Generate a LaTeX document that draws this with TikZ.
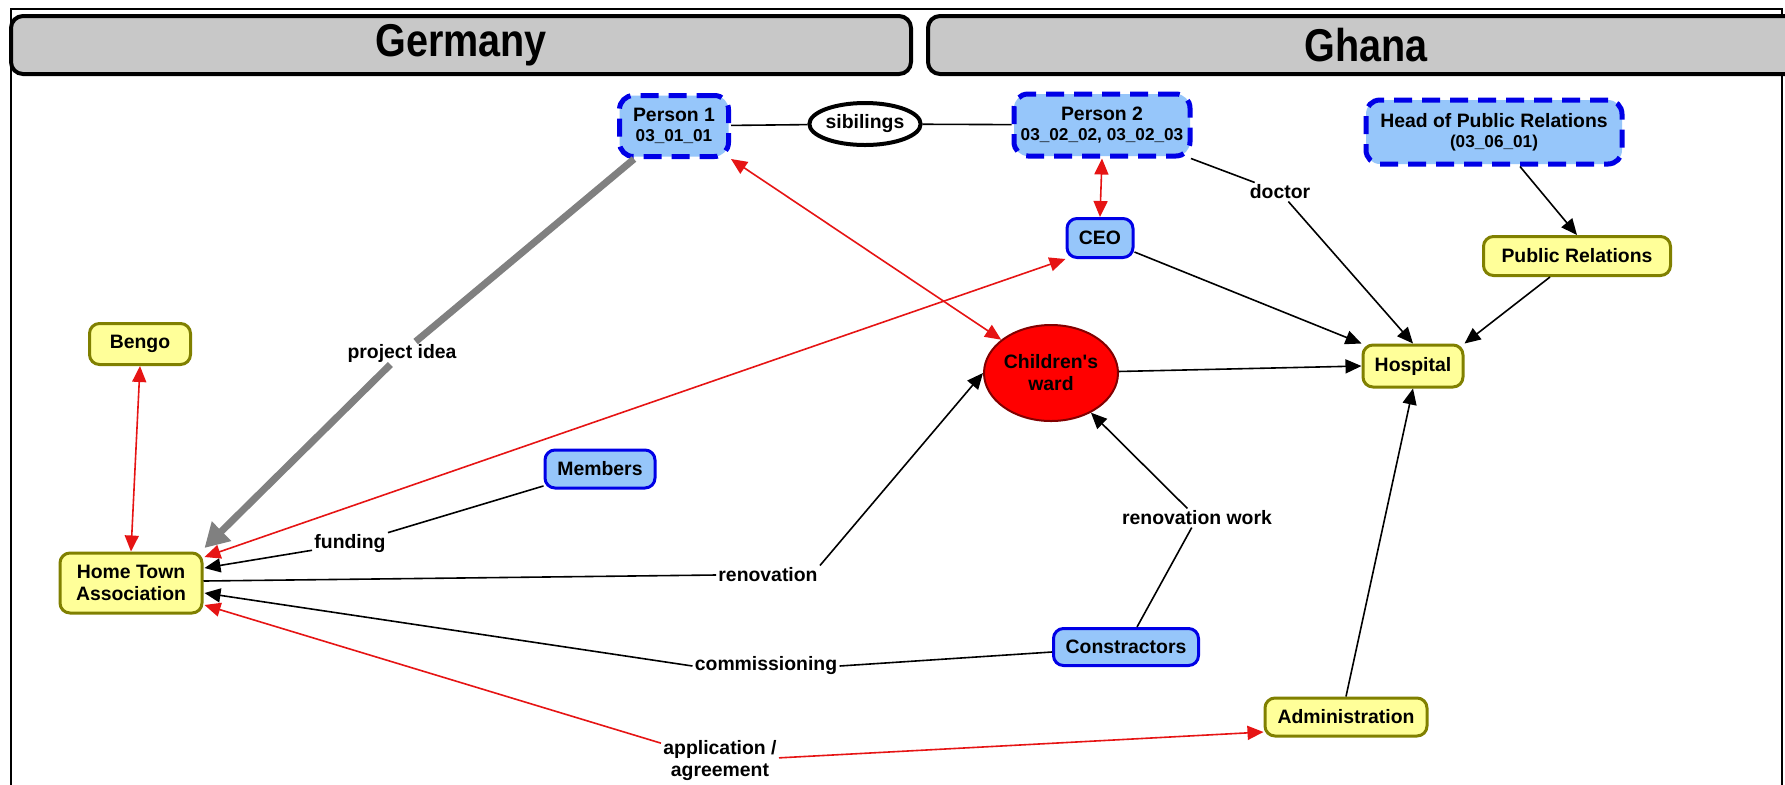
\documentclass[tikz,border=0pt]{standalone}
\usepackage{fontspec}
\setmainfont{Liberation Sans}
\newfontfamily\hdrfont{Liberation Sans}[FakeStretch=0.86]
\usetikzlibrary{arrows.meta,shapes.geometric}
\definecolor{bfill}{RGB}{150,198,250}
\definecolor{bline}{RGB}{0,0,230}
\definecolor{yfill}{RGB}{255,255,153}
\definecolor{yline}{RGB}{128,128,0}
\definecolor{rfill}{RGB}{255,0,0}
\definecolor{rline}{RGB}{130,0,0}
\definecolor{redl}{RGB}{230,20,20}
\definecolor{hfill}{RGB}{200,200,200}
\definecolor{garrow}{RGB}{128,128,128}
\begin{document}
\begin{tikzpicture}[x=0.5pt,y=-0.5pt,
  >={Triangle[length=8pt,width=7pt]},
  every node/.style={font=\fontsize{9.7}{11}\selectfont\bfseries, align=center},
  bbox/.style={draw=bline, fill=bfill, line width=1.5pt, rounded corners=5pt, inner sep=0pt},
  dbox/.style={bbox, line width=2.5pt, dash pattern=on 9pt off 5pt, rounded corners=7pt},
  ybox/.style={draw=yline, fill=yfill, line width=1.5pt, rounded corners=5pt, inner sep=0pt},
  hdr/.style={draw=black, fill=hfill, line width=2pt, rounded corners=6pt, inner sep=0pt,
    font=\hdrfont\bfseries\fontsize{23}{26}\selectfont},
  lab/.style={inner sep=1pt},
  edge/.style={draw=black, line width=0.8pt},
  redge/.style={draw=redl, line width=0.8pt},
  gedge/.style={draw=garrow, line width=3.5pt}
]
\useasboundingbox (0,0) rectangle (1785,784);
\clip (0,0) rectangle (1785,784);
\fill[white] (0,0) rectangle (1785,784);
\draw[line width=0.6pt] (11,9) rectangle (1782,820);

% headers
\node[hdr, minimum width=450pt, minimum height=29pt] (hger) at (461,45) {Germany};
\node[hdr, minimum width=438pt, minimum height=29pt] (hgha) at (1366,45) {Ghana};

% nodes
\node[dbox, minimum width=54.5pt, minimum height=30.5pt] (p1) at (674,126)
  {Person 1\\[-1pt]{\fontsize{8.6}{9.5}\selectfont 03\_01\_01}};
\node[draw=black, fill=white, ellipse, line width=2pt, inner sep=0pt,
  minimum width=51pt, minimum height=21pt] (sib) at (865,124) {sibilings};
\node[dbox, minimum width=88pt, minimum height=31pt] (p2) at (1102,125)
  {Person 2\\[-1pt]{\fontsize{8.6}{9.5}\selectfont 03\_02\_02, 03\_02\_03}};
\node[dbox, minimum width=128pt, minimum height=32pt] (hpr) at (1494,132)
  {Head of Public Relations\\[-1pt]{\fontsize{8.6}{9.5}\selectfont (03\_06\_01)}};
\node[bbox, minimum width=33pt, minimum height=19.5pt] (ceo) at (1100,238) {CEO};
\node[ybox, minimum width=93.5pt, minimum height=19.5pt] (pr) at (1577,256) {Public Relations};
\node[ybox, minimum width=50.5pt, minimum height=20.5pt] (bengo) at (140,344) {Bengo};
\node[draw=rline, fill=rfill, ellipse, line width=1pt, inner sep=0pt,
  minimum width=67pt, minimum height=48pt] (cw) at (1051,373) {Children\textquotesingle s\\ward};
\node[ybox, minimum width=50pt, minimum height=21pt] (hosp) at (1413,366) {Hospital};
\node[bbox, minimum width=55pt, minimum height=19pt] (mem) at (600,469) {Members};
\node[ybox, minimum width=71pt, minimum height=30pt] (hta) at (131,583) {Home Town\\Association};
\node[bbox, minimum width=72.5pt, minimum height=18.5pt] (con) at (1126,647) {Constractors};
\node[ybox, minimum width=81pt, minimum height=19pt] (adm) at (1346,717) {Administration};

% edge labels
\node[lab] (lproj) at (402,353) {project idea};
\node[lab] (lfund) at (350,544) {funding};
\node[lab] (lren) at (768,575) {renovation};
\node[lab] (lcom) at (766,666) {commissioning};
\node[lab] (lapp) at (720,761) {application /\\agreement};
\node[lab] (lrw) at (1197,518) {renovation work};
\node[lab] (ldoc) at (1280,192) {doctor};

% edges
\draw[edge] (p1) -- (sib);
\draw[edge] (sib) -- (p2);
\draw[gedge] ([xshift=8.5pt]p1.south west) -- (lproj);
\draw[gedge, -{Triangle[length=12pt,width=13pt]}] (lproj) -- ([shift={(1,-35)}]hta.east);
\draw[redge,<->] (p1.south east) -- (cw);
\draw[redge,<->] (p2.south) -- (ceo.north);
\draw[edge] (p2) -- (ldoc);
\draw[edge,->] (ldoc) -- (hosp.north);
\draw[edge,->] ([xshift=13pt]hpr.south) -- (pr.north);
\draw[edge,->] ([xshift=-13.5pt]pr.south) -- (hosp.north east);
\draw[edge,->] ([yshift=-7pt]ceo.east) -- (hosp.north west);
\draw[edge,->] (cw) -- (hosp.west);
\draw[edge,->] (adm.north) -- (hosp.south);
\draw[redge,<->] (bengo.south) -- (hta.north);
\draw[redge,<->] ([shift={(1,-26)}]hta.east) -- (ceo.south west);
\draw[edge] (mem) -- (lfund);
\draw[edge,->] (lfund) -- ([shift={(1,-15)}]hta.east);
\draw[edge] ([shift={(0,-2)}]hta.east) -- (lren.west);
\draw[edge,->] (lren.north east) -- (cw.west);
\draw[edge] ([yshift=-2.5pt]con.west) -- (lcom.east);
\draw[edge,->] (lcom.west) -- ([shift={(1,10)}]hta.east);
\draw[edge] (con) -- (lrw);
\draw[edge,->] (lrw) -- (cw);
\draw[redge,<-] ([shift={(1,22)}]hta.east) -- (lapp);
\draw[redge,->] (lapp) -- ([yshift=-7.5pt]adm.west);
\end{tikzpicture}
\end{document}
